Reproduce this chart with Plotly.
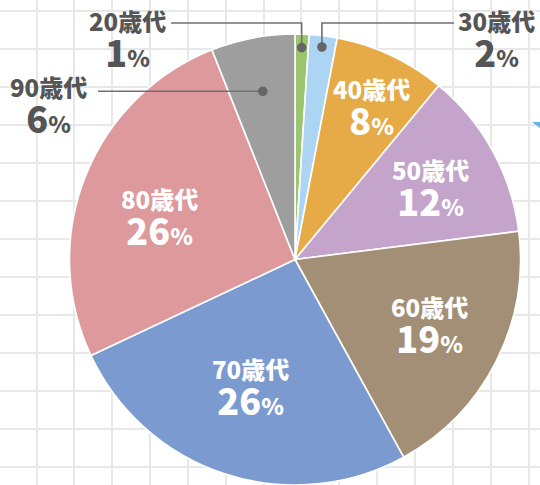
import math
import plotly.graph_objects as go

# ---------------- data ----------------
age_groups = ["20歳代", "30歳代", "40歳代", "50歳代", "60歳代", "70歳代", "80歳代", "90歳代"]
shares = [1, 2, 8, 12, 19, 26, 26, 6]
colors = ["#9cc56f", "#acd5f4", "#e6ab47", "#c4a4cb", "#a38f75", "#7b9bd0", "#dd999b", "#9e9e9e"]

# label style: 'in' = white label in slice, 'out' = grey label with leader line
label_mode = ["out", "out", "in", "in", "in", "in", "in", "out"]
# inside labels: radial fraction and small angular shift (deg)
in_radius = [0, 0, 0.76, 0.68, 0.66, 0.59, 0.63, 0]
in_shift = [0, 0, 1.4, 0.4, -1.5, 1.6, -3.6, 0]
# outside labels: dot radial fraction, label block centre (px), leader end
dot_radius = [0.94, 0.95, 0, 0, 0, 0, 0, 0.76]
out_label_pos = {0: (127, 40), 1: (496, 40), 7: (48, 106)}
leader_elbow_y = {0: 23, 1: 23}
leader_end_x = {0: 171, 1: 454, 7: 98}

W, H = 540, 485
CX, CY, R = 295, 260, 226

BASE_SIZE = 28   # sets the line spacing between name and percentage
NAME_SIZE = 24
NUM_SIZE = 36
PCT_SIZE = 23
FONT = "Noto Sans CJK JP"
IN_DROP = 2      # small downward nudge of inside labels (px)

fig = go.Figure()

fig.add_trace(go.Pie(
    labels=age_groups,
    values=shares,
    sort=False,
    direction="clockwise",
    rotation=0,
    marker=dict(colors=colors, line=dict(color="white", width=1.6)),
    textinfo="none",
    hoverinfo="label+percent",
    showlegend=False,
    domain=dict(x=[(CX - R) / W, (CX + R) / W], y=[0, 1 - (CY - R) / H]),
))

total = sum(shares)
annotations = []
shapes = []


def add_label(x, y, name, v, color):
    text = (f"<span style='font-size:{NAME_SIZE}px'>{name}</span><br>"
            f"<span style='font-size:{NUM_SIZE}px'>{v}</span>"
            f"<span style='font-size:{PCT_SIZE}px'>%</span>")
    annotations.append(dict(x=x, y=y, xref="x", yref="y", text=text, showarrow=False,
                            font=dict(family=FONT, size=BASE_SIZE, color=color, weight=900),
                            xanchor="center", yanchor="middle", align="center"))


cum = 0
for i, (name, v) in enumerate(zip(age_groups, shares)):
    mid = (cum + v / 2) / total * 360.0
    cum += v
    if label_mode[i] == "in":
        a = math.radians(mid + in_shift[i])
        r = in_radius[i] * R
        x = CX + r * math.sin(a)
        y = CY - r * math.cos(a) + IN_DROP
        add_label(x, y, name, v, "white")
    else:
        a = math.radians(mid)
        r = dot_radius[i] * R
        dx = CX + r * math.sin(a)
        dy = CY - r * math.cos(a)
        if i in leader_elbow_y:
            ey = leader_elbow_y[i]
            path = f"M {dx:.2f} {dy:.2f} L {dx:.2f} {ey} L {leader_end_x[i]} {ey}"
        else:
            path = f"M {dx:.2f} {dy:.2f} L {leader_end_x[i]} {dy:.2f}"
        shapes.append(dict(type="path", path=path, xref="x", yref="y", layer="above",
                           line=dict(color="#707070", width=1.6)))
        shapes.append(dict(type="circle", xref="x", yref="y", layer="above",
                           x0=dx - 4.8, x1=dx + 4.8, y0=dy - 4.8, y1=dy + 4.8,
                           fillcolor="#666666", line=dict(width=0)))
        lx, ly = out_label_pos[i]
        add_label(lx, ly, name, v, "#555555")

# small cropped blue arrow tip at the right edge
shapes.append(dict(type="path", path="M 532 122 L 540 122 L 540 128 Z", xref="x", yref="y",
                   layer="above", fillcolor="#62b3ec", line=dict(width=0)))

fig.update_layout(
    width=W, height=H,
    margin=dict(l=0, r=0, t=0, b=0),
    paper_bgcolor="white", plot_bgcolor="white",
    xaxis=dict(range=[0, W], tickmode="linear", tick0=36.5, dtick=37.85,
               showgrid=True, gridcolor="#e8e8e8", gridwidth=1.5,
               showticklabels=False, zeroline=False, showline=False, fixedrange=True),
    yaxis=dict(range=[H, 0], tickmode="linear", tick0=11, dtick=38,
               showgrid=True, gridcolor="#e8e8e8", gridwidth=1.5,
               showticklabels=False, zeroline=False, showline=False, fixedrange=True),
    annotations=annotations,
    shapes=shapes,
)

fig.write_html("out.html")
